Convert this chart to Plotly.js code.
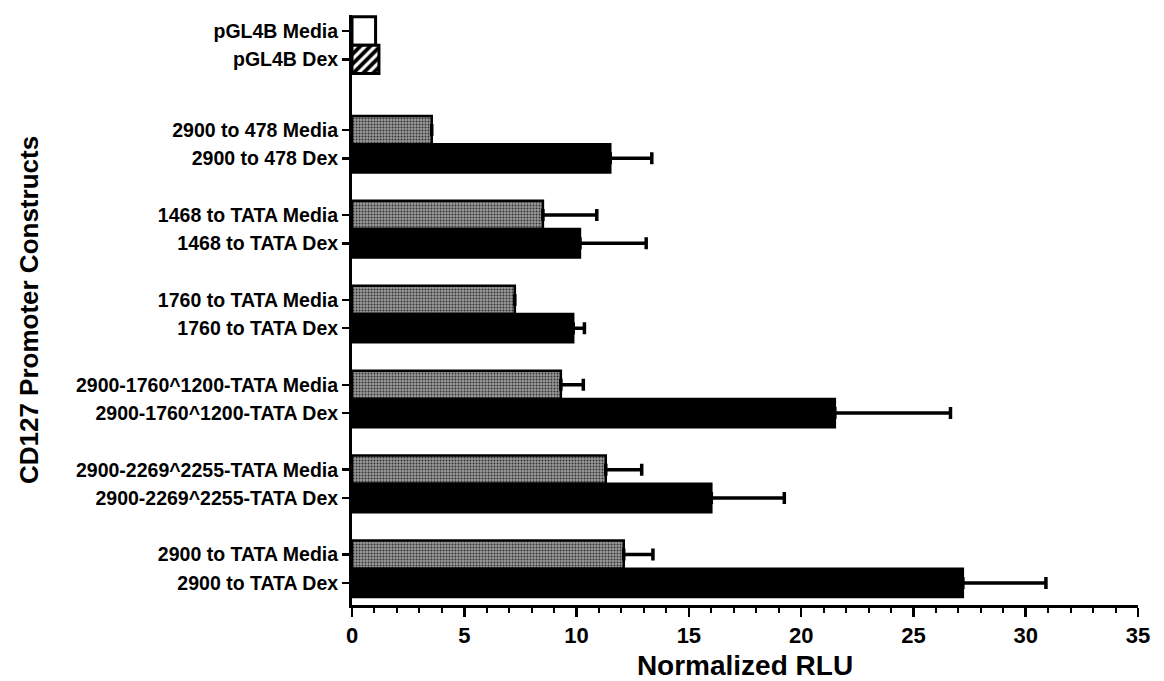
<!DOCTYPE html>
<html>
<head>
<meta charset="utf-8">
<script src="https://cdn.plot.ly/plotly-3.0.1.min.js"></script>
<style>
  html, body { margin: 0; padding: 0; background: #fff; }
  #chart { width: 1164px; height: 681px; }
</style>
</head>
<body>
<div id="chart"></div>
<script>
// ---- data ----
const constructs = [
  "pGL4B",
  "2900 to 478",
  "1468 to TATA",
  "1760 to TATA",
  "2900-1760^1200-TATA",
  "2900-2269^2255-TATA",
  "2900 to TATA"
];
const conditions = ["Media", "Dex"];
const mediaValues = [1.05, 3.55, 8.5, 7.25, 9.3, 11.3, 12.1];
const dexValues   = [1.2, 11.5, 10.15, 9.85, 21.5, 16.0, 27.2];
const mediaErrPlus = [0, 0, 2.4, 0, 1.0, 1.6, 1.3];
const dexErrPlus   = [0, 1.85, 2.95, 0.5, 5.15, 3.25, 3.7];
const xTickVals = [0, 5, 10, 15, 20, 25, 30, 35];

// ---- layout helpers ----
const slotsPerGroup = 3;      // Media, Dex, gap
const controlExtraGap = 0.5;  // the control group sits a little further apart
const groupStart = constructs.map((c, i) => i * slotsPerGroup + (i > 0 ? controlExtraGap : 0));
const mediaPos = groupStart.map(p => p);
const dexPos = groupStart.map(p => p + 1);
const tickVals = [], tickText = [];
constructs.forEach((c, i) => {
  tickVals.push(mediaPos[i]); tickText.push(c + " " + conditions[0]);
  tickVals.push(dexPos[i]); tickText.push(c + " " + conditions[1]);
});

const fontFam = "Arial, 'Liberation Sans', sans-serif";
const errStyle = { color: "#000", thickness: 3.5, width: 6 };

function errX(arr) {
  return Object.assign({ type: "data", symmetric: false, array: arr, arrayminus: arr.map(() => 0) }, errStyle);
}

// control (pGL4B) = first construct; the rest are promoter constructs
const ctrlMediaTrace = {
  type: "bar", orientation: "h",
  x: mediaValues.slice(0, 1), y: mediaPos.slice(0, 1), width: 1.0,
  marker: { color: "#ffffff", line: { color: "#000", width: 3 } },
  showlegend: false
};
const ctrlDexTrace = {
  type: "bar", orientation: "h",
  x: dexValues.slice(0, 1), y: dexPos.slice(0, 1), width: 1.0,
  marker: {
    color: "#ffffff",
    line: { color: "#000", width: 3 },
    pattern: { shape: "/", fgcolor: "#000000", bgcolor: "#ffffff", size: 7, solidity: 0.55 }
  },
  showlegend: false
};
const mediaTrace = {
  type: "bar", orientation: "h",
  x: mediaValues.slice(1), y: mediaPos.slice(1), width: 1.0,
  marker: {
    color: "#8f8f8f",
    line: { color: "#000", width: 2.5 },
    pattern: { shape: ".", fgcolor: "#333333", bgcolor: "#9a9a9a", size: 3, solidity: 0.35 }
  },
  error_x: errX(mediaErrPlus.slice(1)),
  showlegend: false
};
const dexTrace = {
  type: "bar", orientation: "h",
  x: dexValues.slice(1), y: dexPos.slice(1), width: 1.0,
  marker: { color: "#000000", line: { color: "#000", width: 2.5 } },
  error_x: errX(dexErrPlus.slice(1)),
  showlegend: false
};

const layout = {
  width: 1164,
  height: 681,
  paper_bgcolor: "#fff",
  plot_bgcolor: "#fff",
  margin: { l: 352, r: 26, t: 15, b: 76 },
  barmode: "overlay",
  font: { family: fontFam, color: "#000" },
  xaxis: {
    range: [0, 35],
    tickvals: xTickVals,
    ticks: "outside",
    ticklen: 9,
    tickwidth: 2.5,
    tickcolor: "#000",
    showline: true,
    linewidth: 3,
    linecolor: "#000",
    showgrid: false,
    zeroline: false,
    tickfont: { size: 22, family: fontFam, weight: "bold" },
    minor: { dtick: 1, ticks: "outside", ticklen: 5, tickwidth: 2, tickcolor: "#000", showgrid: false },
    title: { text: "Normalized RLU", font: { size: 28, family: fontFam, weight: "bold" }, standoff: 8 }
  },
  yaxis: {
    range: [20.28, -0.565],
    tickvals: tickVals,
    ticktext: tickText,
    ticks: "outside",
    ticklen: 7,
    tickwidth: 2.5,
    tickcolor: "#000",
    showline: true,
    linewidth: 3,
    linecolor: "#000",
    showgrid: false,
    zeroline: false,
    tickfont: { size: 19.5, family: fontFam, weight: "bold" },
    title: { text: "CD127 Promoter Constructs", font: { size: 26, family: fontFam, weight: "bold" }, standoff: 30 }
  }
};

Plotly.newPlot("chart", [ctrlMediaTrace, ctrlDexTrace, mediaTrace, dexTrace], layout, { displayModeBar: false, staticPlot: true });
</script>
</body>
</html>
